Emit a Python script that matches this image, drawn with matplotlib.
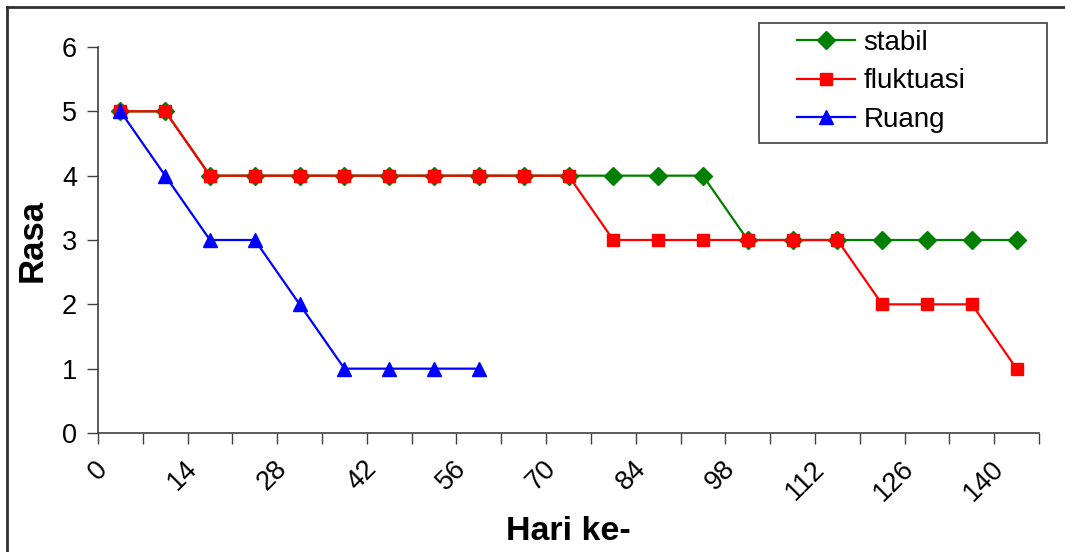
import matplotlib
matplotlib.use("Agg")
import matplotlib.pyplot as plt
from matplotlib.lines import Line2D
from matplotlib.patches import Rectangle
import matplotlib.transforms as mtransforms
import numpy as np

plt.rcParams['font.family'] = ['Liberation Sans', 'DejaVu Sans']

# ── Data: sensory "rasa" score per observation day ────────────────────────────
hari = [0, 7, 14, 21, 28, 35, 42, 49, 56, 63, 70, 77, 84, 91, 98,
        105, 112, 119, 126, 133, 140]
stabil = [5, 5, 4, 4, 4, 4, 4, 4, 4, 4, 4, 4, 4, 4, 3, 3, 3, 3, 3, 3, 3]
fluktuasi = [5, 5, 4, 4, 4, 4, 4, 4, 4, 4, 4, 3, 3, 3, 3, 3, 3, 2, 2, 2, 1]
ruang = [5, 4, 3, 3, 2, 1, 1, 1, 1]

series = [
    ("stabil", stabil, "#008000", "D", 9),
    ("fluktuasi", fluktuasi, "#ff0000", "s", 8.5),
    ("Ruang", ruang, "#0000ff", "^", 10),
]

fig = plt.figure(figsize=(10.65, 5.52), dpi=100)
ax = fig.add_axes([98 / 1065, 1 - 433 / 552, 941 / 1065, 386 / 552])

for name, vals, col, mk, ms in series:
    ax.plot(np.arange(len(vals)), vals, color=col, lw=1.6, marker=mk,
            ms=ms, mfc=col, mec=col, label=name, clip_on=False)

# category axis: ticks between categories, label every second day group
n = len(hari)
bounds = np.arange(n + 1) - 0.5
ax.set_xlim(-0.5, n - 0.5)
ax.set_xticks(bounds)
ax.set_xticklabels([str(h) if i % 2 == 0 else '' for i, h in enumerate(hari)] + [''])
ax.tick_params(axis='x', length=8, width=1, direction='out', pad=15,
               labelsize=19.5, color='#404040')
offset = mtransforms.ScaledTranslation(6 / 100, 0, fig.dpi_scale_trans)
for lbl in ax.get_xticklabels():
    lbl.set_rotation(45)
    lbl.set_rotation_mode('anchor')
    lbl.set_ha('right')
    lbl.set_va('center')
    lbl.set_transform(lbl.get_transform() + offset)

ax.set_ylim(0, 6)
ax.set_yticks(range(0, 7))
ax.tick_params(axis='y', length=8, width=1, direction='out', pad=7,
               labelsize=19.5, color='#404040')

for side in ('top', 'right'):
    ax.spines[side].set_visible(False)
for side in ('left', 'bottom'):
    ax.spines[side].set_color('#404040')
    ax.spines[side].set_linewidth(1.2)

ax.set_ylabel('Rasa', fontsize=25, fontweight='bold')
ax.yaxis.set_label_coords(-0.053, 0.5)
ax.set_xlabel('Hari ke-', fontsize=24.5, fontweight='bold', va='top')
ax.xaxis.set_label_coords(0.5, -0.215)

# legend with a square frame
leg = ax.legend(loc='upper left', bbox_to_anchor=(797 / 1065, 1 - 30 / 552),
                bbox_transform=fig.transFigure, frameon=False, fontsize=20,
                handlelength=2.1, handletextpad=0.3, labelspacing=0.45,
                borderpad=0, borderaxespad=0)
fig.add_artist(Rectangle((759 / 1065, 1 - 143 / 552), 288 / 1065, 120 / 552,
                         transform=fig.transFigure, fill=False,
                         ec='#404040', lw=1.2))

# outer chart border (top and left edges)
fig.add_artist(Line2D([7 / 1065, 1], [1 - 7 / 552, 1 - 7 / 552],
                      transform=fig.transFigure, color='#303030', lw=2))
fig.add_artist(Line2D([7 / 1065, 7 / 1065], [0, 1 - 7 / 552],
                      transform=fig.transFigure, color='#303030', lw=2))

fig.savefig('out.png', dpi=100)
